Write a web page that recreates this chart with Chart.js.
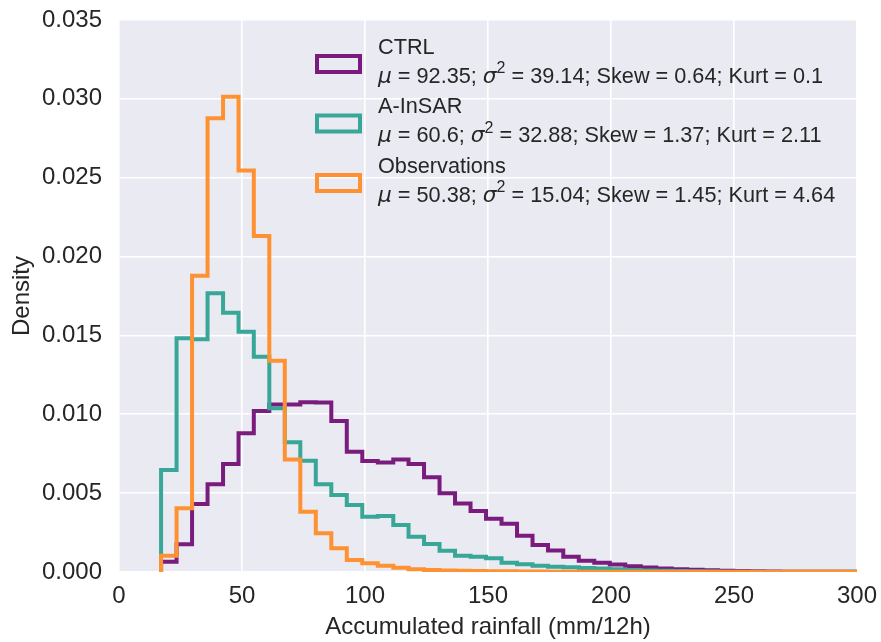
<!DOCTYPE html>
<html>
<head>
<meta charset="utf-8">
<script src="https://cdn.jsdelivr.net/npm/chart.js@4.4.1/dist/chart.umd.min.js"></script>
<style>
  html, body { margin: 0; padding: 0; background: #fff; }
  #wrap { width: 881px; height: 642px; }
</style>
</head>
<body>
<div id="wrap"><canvas id="rainChart" width="881" height="642"></canvas></div>
<script>
// shared bin edges (mm/12h)
const binEdges = [17.1, 23.4, 29.7, 36.0, 42.3, 48.6, 54.8, 61.1, 67.4, 73.7, 80.0, 86.3, 92.6, 98.9, 105.2,
  111.5, 117.7, 124.0, 130.3, 136.6, 142.9, 149.2, 155.5, 161.8, 168.1, 174.4, 180.6, 186.9, 193.2, 199.5,
  205.8, 212.1, 218.4, 224.7, 231.0, 237.3, 243.5, 249.8, 256.1, 262.4, 268.7, 275.0, 281.3, 287.6, 293.9, 300.2];

const ctrlDensity = [0.00065, 0.00176, 0.00431, 0.00556, 0.00685, 0.00879, 0.01021, 0.01062, 0.01062, 0.01076,
  0.01074, 0.00957, 0.00763, 0.00704, 0.00695, 0.00714, 0.00685, 0.00600, 0.00500, 0.00435,
  0.00386, 0.00338, 0.00306, 0.00230, 0.00171, 0.00136, 0.00097, 0.00072, 0.00059, 0.00047,
  0.00036, 0.00029, 0.00022, 0.00018, 0.00014, 0.00011, 0.00008, 0.00006, 0.00004, 0.00003,
  0.00002, 0.00002, 0.00001, 0.00001, 0.00001];

const insarDensity = [0.00647, 0.01482, 0.01475, 0.01767, 0.01644, 0.01524, 0.01365, 0.01038, 0.00822, 0.00706,
  0.00556, 0.00488, 0.00425, 0.00351, 0.00355, 0.00298, 0.00224, 0.00178, 0.00135, 0.00103,
  0.00097, 0.00087, 0.00059, 0.00049, 0.00040, 0.00034, 0.00030, 0.00025, 0.00022, 0.00018,
  0.00013, 0.00010, 0.00008, 0.00006, 0.00004, 0.00003, 0.00002, 0.00002, 0.00001, 0.00001,
  0.00001, 0.00001, 0.00001, 0.00001, 0.00001];

const obsDensity = [0.00103, 0.00404, 0.01879, 0.02877, 0.03014, 0.02545, 0.02131, 0.01340, 0.00714, 0.00382,
  0.00245, 0.00150, 0.00076, 0.00055, 0.00040, 0.00027, 0.00017, 0.00012, 0.00010, 0.00008,
  0.00006, 0.00005, 0.00004, 0.00003, 0.00003, 0.00002, 0.00002, 0.00002, 0.00001, 0.00001,
  0.00001, 0.00001, 0.00001, 0.00001, 0.00001, 0.00001, 0.00001, 0.00001, 0.00001, 0.00001,
  0.00001, 0.00001, 0.00001, 0.00001, 0.00001];

const seriesNames = ['CTRL', 'A-InSAR', 'Observations'];
const seriesColors = ['#7a1c7e', '#38a797', '#fe9233'];
const statMean = ['92.35', '60.6', '50.38'];
const statVar = ['39.14', '32.88', '15.04'];
const statSkew = ['0.64', '1.37', '1.45'];
const statKurt = ['0.1', '2.11', '4.64'];

const xTicks = [0, 50, 100, 150, 200, 250, 300];
const yTicks = [0, 0.005, 0.010, 0.015, 0.020, 0.025, 0.030, 0.035];

const TXT = '#262626';
const SANS = "'Liberation Sans', Arial, sans-serif";

// histogram outline as step points: (e0,0), (ek,vk)..., (en,0)
function stepPoints(vals) {
  const pts = [{x: binEdges[0], y: 0}];
  vals.forEach((v, k) => pts.push({x: binEdges[k], y: v}));
  pts.push({x: binEdges[vals.length], y: 0});
  return pts;
}

const allVals = [ctrlDensity, insarDensity, obsDensity];

const bgPlugin = {
  id: 'plotBg',
  beforeDraw(chart) {
    const {ctx, chartArea: a} = chart;
    ctx.save();
    ctx.fillStyle = '#eaeaf2';
    ctx.fillRect(a.left, a.top, a.right - a.left, a.bottom - a.top);
    ctx.restore();
  }
};

// legend with stats line (mu, sigma^2 in italic, superscript 2)
const legendPlugin = {
  id: 'statLegend',
  afterDraw(chart) {
    const ctx = chart.ctx;
    ctx.save();
    ctx.textBaseline = 'middle';
    seriesNames.forEach((name, i) => {
      const dy = i * 59.5;
      ctx.strokeStyle = seriesColors[i];
      ctx.lineWidth = 4;
      ctx.strokeRect(317, 56 + dy, 43, 16);

      ctx.fillStyle = TXT;
      ctx.font = '21.7px ' + SANS;
      ctx.fillText(name, 378, 48 + dy);

      const y = 77 + dy;
      let x = 378;
      const parts = [
        ['μ', "italic 21.7px 'DejaVu Sans', sans-serif", 0],
        [' = ' + statMean[i] + '; ', '21.7px ' + SANS, 0],
        ['σ', "italic 21.7px 'DejaVu Sans', sans-serif", 0],
        ['2', '16px ' + SANS, -8],
        [' = ' + statVar[i] + '; Skew = ' + statSkew[i] + '; Kurt = ' + statKurt[i], '21.7px ' + SANS, 0]
      ];
      parts.forEach(([t, f, off]) => {
        ctx.font = f;
        ctx.fillText(t, x, y + off);
        x += ctx.measureText(t).width;
      });
    });
    ctx.restore();
  }
};

new Chart(document.getElementById('rainChart'), {
  type: 'line',
  data: {
    datasets: seriesNames.map((n, i) => ({
      label: n,
      data: stepPoints(allVals[i]),
      borderColor: seriesColors[i],
      backgroundColor: seriesColors[i],
      borderWidth: 4,
      stepped: 'before',
      pointRadius: 0,
      fill: false,
      order: 3 - i
    }))
  },
  options: {
    responsive: false,
    animation: false,
    layout: { padding: { top: 20, right: 24, left: 0, bottom: 0 } },
    plugins: { legend: { display: false }, tooltip: { enabled: false } },
    scales: {
      x: {
        type: 'linear', min: 0, max: 300,
        afterFit: s => { s.height = 70; s.paddingLeft = 0; s.paddingRight = 0; },
        afterBuildTicks: s => { s.ticks = xTicks.map(v => ({value: v})); },
        ticks: { color: TXT, font: { size: 24, family: SANS }, padding: 10, maxRotation: 0 },
        grid: { color: '#ffffff', lineWidth: 1.6, drawTicks: false },
        border: { display: false },
        title: { display: true, text: 'Accumulated rainfall (mm/12h)', color: TXT,
          font: { size: 24, family: SANS }, padding: 0 }
      },
      y: {
        min: 0, max: 0.035,
        afterFit: s => { s.width = 119; s.paddingTop = 0; s.paddingBottom = 0; },
        afterBuildTicks: s => { s.ticks = yTicks.map(v => ({value: v})); },
        ticks: { color: TXT, font: { size: 24, family: SANS }, padding: 17,
          callback: v => Number(v).toFixed(3) },
        grid: { color: '#ffffff', lineWidth: 1.6, drawTicks: false },
        border: { display: false },
        title: { display: true, text: 'Density', color: TXT,
          font: { size: 24, family: SANS }, padding: 8 }
      }
    }
  },
  plugins: [bgPlugin, legendPlugin]
});
</script>
</body>
</html>
